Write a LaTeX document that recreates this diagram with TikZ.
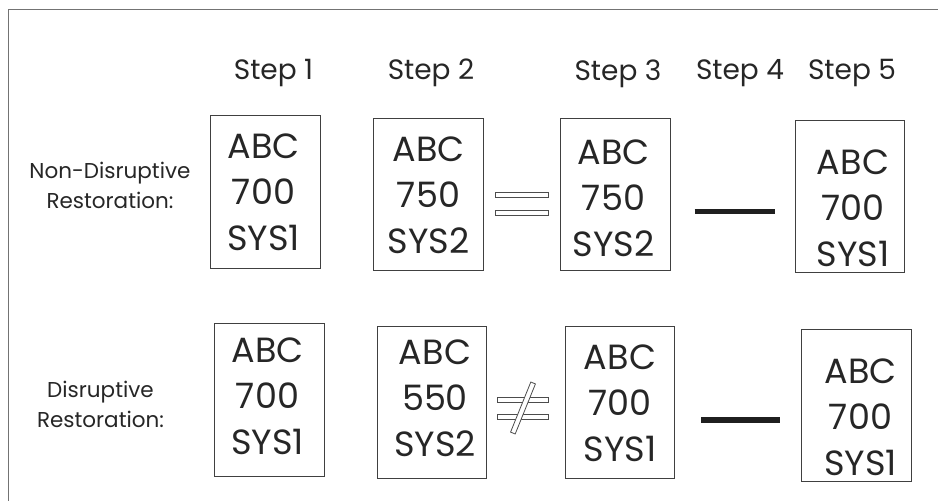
\documentclass[tikz,border=0pt]{standalone}
\usepackage{fontspec}
\setmainfont{Poppins}

\begin{document}
\begin{tikzpicture}[x=1pt, y=-1pt,
	card/.style={draw=black!75, line width=0.9pt, minimum width=109.5pt, minimum height=152.5pt, inner sep=0pt},
	cardtext/.style={align=center, text=black!85, font=\fontsize{35}{46}\selectfont},
	steplabel/.style={anchor=base, text=black!85, font=\fontsize{28}{30}\selectfont},
	rowlabel/.style={anchor=base, align=center, text=black!85, font=\fontsize{21.5}{30}\selectfont},
	eqbar/.style={draw=black!70, line width=0.8pt, fill=white},
	stepline/.style={draw=black!88, line width=5.5pt}]
	\useasboundingbox (0,0) rectangle (938,501);
	\draw [black!55, line width=1pt] (8,510) -- (8,9) -- (945,9);

	\foreach \i / \x / \y in {1/273.5/79,2/431/79,3/618/80.5,4/740/79,5/852/79}
		\node[steplabel] (s\i) at (\x,\y) {Step \i};

	\node[rowlabel] (nondis) at (110,208) {Non-Disruptive\\Restoration:};
	\node[rowlabel] (dis) at (100.5,427) {Disruptive\\Restoration:};

	\foreach \b / \x / \y / \dx / \dy / \num / \sys in {r1b1/265.5/192/-2/0/700/SYS1, r1b2/428.5/194.5/0/1/750/SYS2, r1b3/615.5/194.5/-2/4/750/SYS2, r1b5/850/196.5/3/12/700/SYS1, r2b1/269.5/400/-2/-4/700/SYS1, r2b2/432/402.5/3/-4/550/SYS2, r2b3/620/402.5/0/1/700/SYS1, r2b5/856.5/405.5/4/12/700/SYS1}{
		\node[card] (\b) at (\x,\y) {};
		\node[cardtext] (\b-t) at ([shift={(\dx,\dy)}]\b.center) {ABC\\\num\\\sys};}

	\draw[eqbar] ([xshift=12pt,yshift=2.5pt]r1b2.east) rectangle ([xshift=-12pt,yshift=-2.5pt]r1b3.west);
	\draw[eqbar] ([xshift=12pt,yshift=-15.5pt]r1b2.east) rectangle ([xshift=-12pt,yshift=-20.5pt]r1b3.west);

	\draw[eqbar] ([xshift=10pt,yshift=5.5pt]r2b2.east) rectangle ([xshift=-16pt,yshift=0.5pt]r2b3.west);
	\draw[eqbar] ([xshift=10pt,yshift=-11.5pt]r2b2.east) rectangle ([xshift=-16pt,yshift=-16.5pt]r2b3.west);
	\node[eqbar, minimum width=54pt, minimum height=5pt, inner sep=0pt, rotate=68] (neq) at (523,408) {};

	\draw[stepline] ([xshift=24pt,yshift=-17pt]r1b3.east) -- ([xshift=-20pt,yshift=-15pt]r1b5.west);
	\draw[stepline] ([xshift=26pt,yshift=-17.5pt]r2b3.east) -- ([xshift=-21pt,yshift=-14.5pt]r2b5.west);

\end{tikzpicture}
\end{document}
